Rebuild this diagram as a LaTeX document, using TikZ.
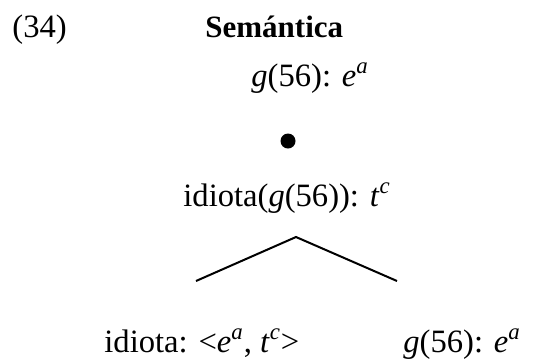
\documentclass[tikz,border=0pt]{standalone}
\usepackage{fontspec}
\setmainfont{Liberation Serif}
\usepackage{tikz}
\usetikzlibrary{positioning}

% italic symbol with italic superscript
\newcommand{\typ}[2]{\textit{#1}\textsuperscript{\textit{#2}}}

\begin{document}
\begin{tikzpicture}[
  x=0.5pt, y=-0.5pt,
  every node/.style={font=\fontsize{16.3}{19}\selectfont, inner sep=0pt},
  lbl/.style={anchor=base west},
  branch/.style={line width=1pt},
]
\useasboundingbox (0,0) rectangle (540,360);
% heading
\node[lbl] (num) at (12,37) {(34)};
\node[lbl, font=\fontsize{15.5}{18}\selectfont\bfseries] (sem) at (205,37) {Semántica};
% upper part
\node[lbl] (top) at (251,86) {\textit{g}(56): \typ{e}{a}};
\fill (288,141) circle[radius=7.5] coordinate (dot);
\node[lbl] (mid) at (183,206) {idiota(\textit{g}(56)): \typ{t}{c}};
% branches
\coordinate (apex) at (296,237);
\coordinate (lend) at (196,281);
\coordinate (rend) at (397,281);
\draw[branch] (lend) -- (apex) -- (rend);
% leaves
\node[lbl] (left) at (104,352) {idiota: <\typ{e}{a}, \typ{t}{c}>};
\node[lbl] (right) at (403,352) {\textit{g}(56): \typ{e}{a}};
\end{tikzpicture}
\end{document}
